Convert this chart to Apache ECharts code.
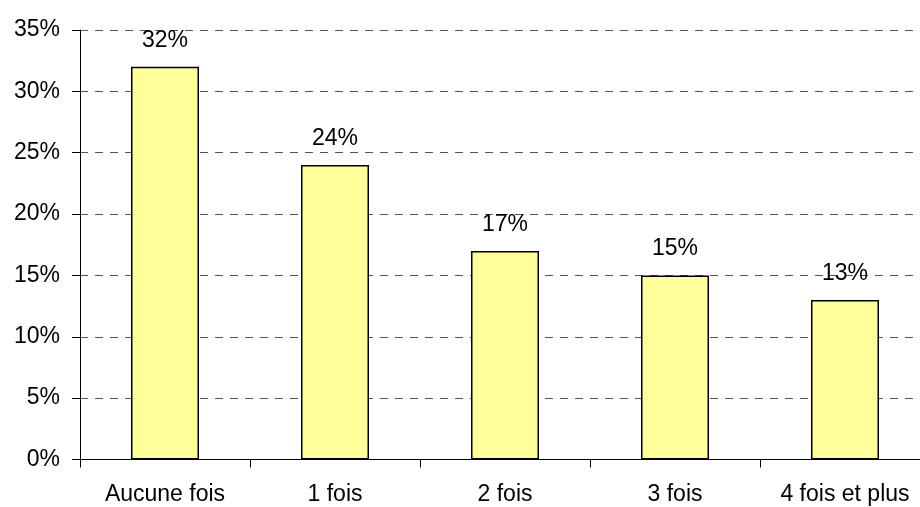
<!DOCTYPE html>
<html>
<head>
<meta charset="utf-8">
<script src="https://cdn.jsdelivr.net/npm/echarts@6/dist/echarts.min.js"></script>
<style>
  html, body { margin: 0; padding: 0; background: #fff; overflow: hidden; }
  #chart-container { width: 930px; height: 507px; }
</style>
</head>
<body>
<div id="chart-container"></div>
<script>
var categories = ['Aucune fois', '1 fois', '2 fois', '3 fois', '4 fois et plus'];
var values = [32, 24, 17, 15, 13];

var dom = document.getElementById('chart-container');
var myChart = echarts.init(dom, null, { renderer: 'canvas' });

var font = 'Liberation Sans, Arial, sans-serif';

// plot area runs past the right edge of the window, as in the original
var option = {
  backgroundColor: '#fff',
  animation: false,
  grid: { left: 80, right: 0, top: 30, bottom: 47.5, containLabel: false },
  xAxis: {
    type: 'category',
    data: categories,
    axisLine: { lineStyle: { color: '#000', width: 1 } },
    axisTick: { show: true, length: 8, lineStyle: { color: '#000' } },
    axisLabel: { color: '#000', fontFamily: font, fontSize: 23, margin: 24 }
  },
  yAxis: {
    type: 'value',
    min: 0,
    max: 35,
    interval: 5,
    axisLine: { show: true, lineStyle: { color: '#000', width: 1 } },
    axisTick: { show: true, length: 8, lineStyle: { color: '#000' } },
    axisLabel: {
      color: '#000', fontFamily: font, fontSize: 23, margin: 20,
      formatter: '{value}%'
    },
    splitLine: {
      show: true,
      lineStyle: { color: '#555', width: 1, type: [8, 7] }
    }
  },
  series: [
    {
      type: 'bar',
      data: values,
      barWidth: 68,
      itemStyle: { color: '#FFFF99', borderColor: '#000', borderWidth: 1.5 },
      label: {
        show: true,
        position: 'top',
        distance: 15,
        color: '#000',
        fontFamily: font,
        fontSize: 23,
        formatter: '{c}%'
      }
    }
  ]
};

myChart.setOption(option);
window.addEventListener('resize', myChart.resize);
</script>
</body>
</html>
